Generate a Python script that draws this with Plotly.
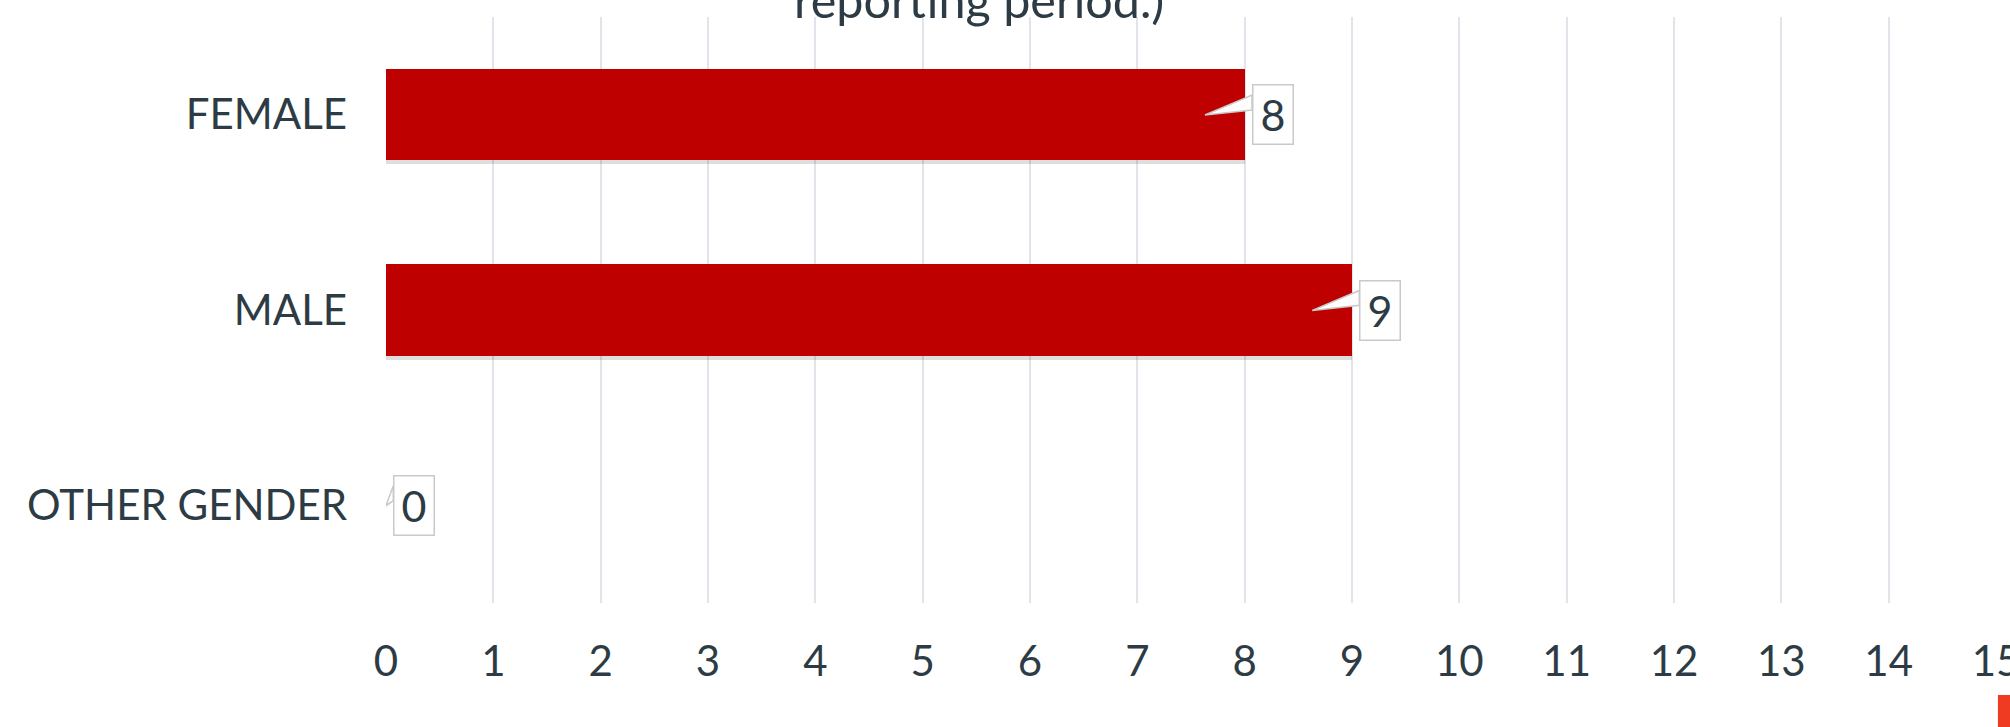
import plotly.graph_objects as go

categories = ["FEMALE", "MALE", "OTHER GENDER"]
values = [8, 9, 0]
x_ticks = list(range(0, 16))
title_text = "reporting period.)"

TEXT = "#2d3b45"
BAR = "#bf0000"
GRID = "#e1e4ea"
FONT = "Lato"

pos = list(range(len(categories)))
bar_w = 0.466

fig = go.Figure()
# soft shadow under the bars
fig.add_trace(go.Bar(
    x=values, y=pos, orientation="h", width=bar_w, offset=-bar_w / 2 + 0.022,
    marker=dict(color="rgba(0,0,0,0.13)", line=dict(width=0)),
    hoverinfo="skip", showlegend=False,
))
fig.add_trace(go.Bar(
    x=values, y=pos, orientation="h", width=bar_w, offset=-bar_w / 2,
    marker=dict(color=BAR, line=dict(width=0)),
    showlegend=False, name="Count",
))

shapes = []
annotations = []
for i, v in enumerate(values):
    tip_x = max(v - 0.37, 0)
    base_x = v + 0.068
    shapes.append(dict(
        type="path", xref="x", yref="y", layer="above",
        path=f"M {tip_x},{i + 0.002} L {base_x},{i - 0.10} L {base_x},{i - 0.024} Z",
        fillcolor="white", line=dict(color="#c9c9c9", width=1.5),
    ))
    annotations.append(dict(
        x=v, y=i, xref="x", yref="y", xanchor="left", yanchor="middle",
        xshift=7, text=str(v), showarrow=False, width=37, height=56,
        align="center", valign="middle",
        bgcolor="white", bordercolor="#c9c9c9", borderwidth=1.5, borderpad=1,
        font=dict(family=FONT, size=43, color=TEXT),
    ))

annotations.append(dict(
    x=(979 - 386) / 1610, y=1, xref="paper", yref="paper", xanchor="center", yanchor="middle",
    yshift=18, text=title_text, showarrow=False,
    font=dict(family=FONT, size=48.5, color=TEXT),
))

# legend swatch peeking in at bottom-right corner
shapes.append(dict(
    type="rect", xref="paper", yref="paper", x0=1.0012, x1=1.03, y0=-0.157, y1=-0.23,
    fillcolor="#ef3b22", line=dict(width=0), layer="above",
))

fig.update_layout(
    width=2010, height=727,
    margin=dict(l=386, r=14, t=17, b=124, autoexpand=False),
    paper_bgcolor="white", plot_bgcolor="white",
    bargap=0,
    shapes=shapes, annotations=annotations,
    font=dict(family=FONT, color=TEXT, size=42),
    showlegend=False,
)
fig.update_xaxes(
    range=[0, 15], tickvals=x_ticks, ticktext=[str(t) for t in x_ticks],
    showgrid=True, gridcolor=GRID, gridwidth=1.5, zeroline=False,
    showline=False, ticks="", ticklabelstandoff=30, automargin=False,
    ticklabeloverflow="allow",
    tickfont=dict(family=FONT, size=42, color=TEXT),
)
fig.update_yaxes(
    range=[2.5, -0.5], tickvals=pos, ticktext=categories,
    showgrid=False, zeroline=False, showline=False, ticks="",
    ticklabelstandoff=38, automargin=False, ticklabeloverflow="allow",
    tickfont=dict(family=FONT, size=42, color=TEXT),
)

fig.write_html(
    "out.html",
    config={"displayModeBar": False},
    post_script="document.body.style.margin='0';document.body.style.overflow='hidden';",
)
